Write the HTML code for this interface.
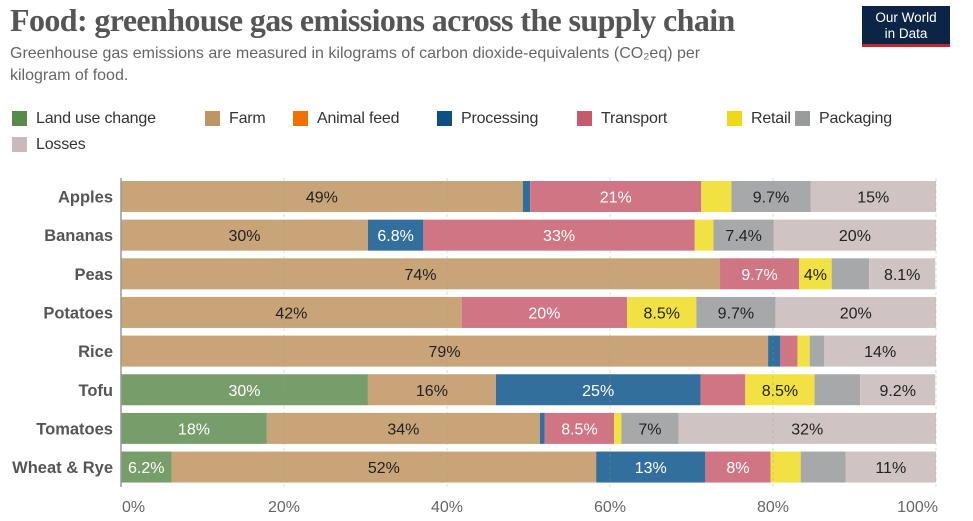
<!DOCTYPE html>
<html><head><meta charset="utf-8"><style>
body{margin:0;background:#fff;font-family:"Liberation Sans",sans-serif;}
#wrap{position:relative;width:973px;height:521px;overflow:hidden;}
.title{position:absolute;left:10px;top:2px;font-family:"Liberation Serif",serif;font-size:32px;font-weight:bold;color:#555;letter-spacing:-0.6px;white-space:nowrap}
.sub{position:absolute;left:10px;top:43px;font-size:16px;color:#666;line-height:22px;width:735px}
.logo{position:absolute;left:862px;top:6px;width:88px;height:41px;background:#0c2446;color:#fff;font-size:13.5px;line-height:16px;text-align:center;padding-top:4px;box-sizing:border-box;border-bottom:3px solid #c8262c}
.leg{position:absolute;font-size:16px;letter-spacing:-0.2px;color:#333;white-space:nowrap}
.sw{position:absolute;width:15px;height:15px}
</style></head><body>
<div id="wrap">
<div class="title">Food: greenhouse gas emissions across the supply chain</div>
<div class="sub">Greenhouse gas emissions are measured in kilograms of carbon dioxide-equivalents (CO₂eq) per kilogram of food.</div>
<div class="logo">Our World<br>in Data</div>
<div id="legend"></div>
<svg id="chart" width="973" height="521" style="position:absolute;left:0;top:0"></svg>
</div>
<script>
const categories=["Apples","Bananas","Peas","Potatoes","Rice","Tofu","Tomatoes","Wheat & Rye"];
const seriesNames=["Land use change","Farm","Animal feed","Processing","Transport","Retail","Packaging","Losses"];
const landUse=[0,0,0,0,0,30.3,17.9,6.2];
const farm=[49.3,30.3,73.5,41.8,79.4,15.7,33.5,52.1];
const animalFeed=[0,0,0,0,0,0,0,0];
const processing=[0.9,6.8,0,0,1.5,25.1,0.6,13.4];
const transport=[21,33.3,9.7,20.3,2.1,5.5,8.5,8.0];
const retail=[3.7,2.3,4.0,8.5,1.5,8.5,0.9,3.7];
const packaging=[9.7,7.4,4.6,9.7,1.8,5.6,7.0,5.5];
const losses=[15.4,19.9,8.1,19.7,13.7,9.2,31.6,11.1];
const ticks=[0,20,40,60,80,100];
const series=[landUse,farm,animalFeed,processing,transport,retail,packaging,losses];
const barColors=["#779e6a","#c8a478","#f07000","#336f9c","#d07584","#f2e142","#a7a8a9","#cfc3c4"];
const legColors=["#5a8a4a","#be9564","#f07000","#0e4f84","#c45a6a","#eed81a","#9a9b9c","#c9b9ba"];
const whiteText=[true,false,true,true,true,false,false,false];
const X0=121,X1=936;
const x=v=>X0+(X1-X0)*v/100;
const rowY=i=>181+i*38.65;
const BH=31;
const ns="http://www.w3.org/2000/svg";
const svg=document.getElementById('chart');
function mk(t,a){const e=document.createElementNS(ns,t);for(const k in a)e.setAttribute(k,a[k]);svg.appendChild(e);return e;}
// legend
const legPos=[[12,111],[205,111],[293,111],[437,111],[577,111],[727,111],[795,111],[12,137]];
const legend=document.getElementById('legend');
seriesNames.forEach((n,i)=>{
  const s=document.createElement('div');s.className='sw';
  s.style.left=legPos[i][0]+'px';s.style.top=legPos[i][1]+'px';s.style.background=legColors[i];
  
  
  legend.appendChild(s);
  const t=document.createElement('div');t.className='leg';t.textContent=n;
  t.style.left=(legPos[i][0]+24)+'px';t.style.top=(legPos[i][1]-1)+'px';
  
  
  legend.appendChild(t);
});
// bars
function fmt(v){return v>=10?Math.round(v)+'%':(Math.round(v*10)/10).toString()+'%';}
function tw(s){return s.length*8.6;}
categories.forEach((c,i)=>{
  const y=rowY(i);
  const lab=mk('text',{x:113,y:y+BH/2+6,'text-anchor':'end','font-size':16.5,'font-weight':'bold',fill:'#555'});
  lab.textContent=c;
  
  
  let acc=0;
  series.forEach((s,j)=>{
    const v=s[i];if(v<=0)return;
    const r=mk('rect',{x:x(acc),y:y,width:x(acc+v)-x(acc),height:BH,fill:barColors[j]});
    
    
    const w=x(acc+v)-x(acc);const txt=fmt(v);
    if(w-tw(txt)>=13){
      const t=mk('text',{x:(x(acc)+x(acc+v))/2,y:y+BH/2+6,'text-anchor':'middle','font-size':16,fill:whiteText[j]?'#fff':'#222'});
      t.textContent=txt;
      
      
    }
    acc+=v;
  });
});
// grid & axis
ticks.forEach(t=>{
  if(t>0){const g=mk('line',{x1:x(t),x2:x(t),y1:178,y2:488,stroke:'#999','stroke-width':1,'stroke-dasharray':'3,3',opacity:0.35});
  
  }
  const tl=mk('text',{x:t===0?x(t)+1:(t===100?x(t)+2:x(t)),y:512,'text-anchor':t===0?'start':(t===100?'end':'middle'),'font-size':16,fill:'#666'});
  tl.textContent=t+'%';
  
  
});
const ax=mk('line',{x1:X0,x2:X0,y1:178,y2:487,stroke:'#999','stroke-width':1.5});


</script>
</body></html>
